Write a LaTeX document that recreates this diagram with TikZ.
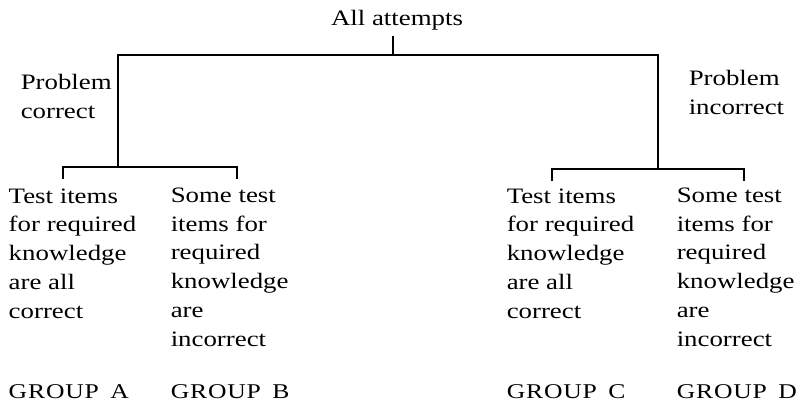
\documentclass[tikz,border=0pt]{standalone}
\usepackage{fontspec}
\setmainfont[FakeStretch=1.22]{Liberation Serif}
\usepackage{tikz}

\begin{document}
\begin{tikzpicture}[x=1pt, y=-1pt, line width=1.5pt,
    txt/.style={anchor=base west, align=left, inner sep=0pt,
      font=\fontsize{22}{28.7}\selectfont},
    grp/.style={anchor=base west, inner sep=0pt,
      font=\fontsize{21}{22}\selectfont\addfontfeature{LetterSpace=4}}]
  \useasboundingbox (0,0) rectangle (800,408);
  % split points
  \coordinate (top) at (393,36);
  \coordinate (topm) at (393,55);
  \coordinate (cl) at (118,55);
  \coordinate (cr) at (658,55);
  \coordinate (clm) at (118,167);
  \coordinate (crm) at (658,169);
  \coordinate (la) at (63,179);
  \coordinate (lb) at (237,179);
  \coordinate (rc) at (552,181);
  \coordinate (rd) at (744,181);
  % tree
  \draw (top) -- (topm);
  \draw (clm) -- (cl) -- (cr) -- (crm);
  \draw (la) -- (la |- clm) -- (lb |- clm) -- (lb);
  \draw (rc) -- (rc |- crm) -- (rd |- crm) -- (rd);
  % labels (base = last line)
  \node[txt, anchor=base] (all) at (397,25) {All attempts};
  \node[txt] (pcor) at (20,118) {Problem\\correct};
  \node[txt] (pinc) at (688,114) {Problem\\incorrect};
  \node[txt] (ta) at (8,318) {Test items\\for required\\knowledge\\are all\\correct};
  \node[txt] (tb) at (170,346) {Some test\\items for\\required\\knowledge\\are\\incorrect};
  \node[txt] (tc) at (506,318) {Test items\\for required\\knowledge\\are all\\correct};
  \node[txt] (td) at (676,346) {Some test\\items for\\required\\knowledge\\are\\incorrect};
  \node[grp] (ga) at (8,398) {GROUP\hspace{0.55em}A};
  \node[grp] (gb) at (170,398) {GROUP\hspace{0.55em}B};
  \node[grp] (gc) at (506,398) {GROUP\hspace{0.55em}C};
  \node[grp] (gd) at (676,398) {GROUP\hspace{0.55em}D};
\end{tikzpicture}
\end{document}
